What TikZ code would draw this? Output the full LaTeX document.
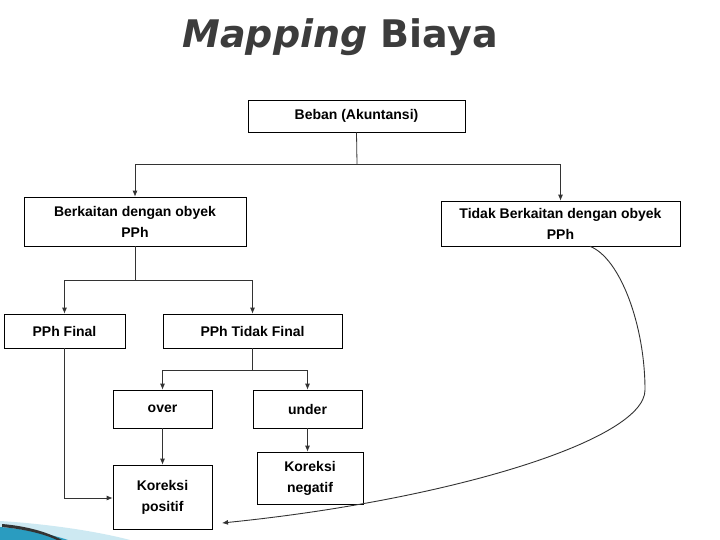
\documentclass[tikz,border=0pt]{standalone}
\usepackage{fontspec}
\setmainfont{Liberation Sans}
\newfontfamily\titlefont{DejaVu Sans}
\usetikzlibrary{arrows.meta}
\definecolor{titlegray}{HTML}{3C3C3C}
\definecolor{swteal}{HTML}{2A9CC0}
\definecolor{swlight}{HTML}{CDE9F2}
\begin{document}
\begin{tikzpicture}[x=1pt,y=-1pt,
  box/.style={draw=black,line width=0.7pt,fill=white,inner sep=0pt,font=\bfseries\fontsize{14}{21}\selectfont,align=center},
  conn/.style={draw=black!80,line width=0.8pt},
  arr/.style={conn,-{Latex[length=6pt,width=5pt]}}]
\useasboundingbox (0,0) rectangle (720,540);
\fill[white] (0,0) rectangle (720,540);
% swoosh
\fill[swlight] (0,521) .. controls (50,524) and (100,532) .. (130,540) -- (0,540) -- cycle;
\fill[swteal] (0,527) .. controls (25,529) and (50,534) .. (68,540) -- (0,540) -- cycle;
\fill[black!80] (2,524) .. controls (25,526) and (45,531) .. (62,540) -- (57,540) .. controls (42,533) and (22,529) .. (2,527) -- cycle;
% title
\node[font=\titlefont\bfseries\fontsize{38}{40}\selectfont,text=titlegray] (title) at (340,37) {\itshape Mapping\upshape{} Biaya};
% boxes
\node[box,minimum width=217pt,minimum height=32pt] (beban) at (356.5,116) {Beban (Akuntansi)};
\node[box,minimum width=222pt,minimum height=49pt] (berk) at (135,221.5) {Berkaitan dengan obyek\\PPh};
\node[box,minimum width=239pt,minimum height=45pt] (tidak) at (560.5,223.5) {Tidak Berkaitan dengan obyek\\PPh};
\node[box,minimum width=121pt,minimum height=34pt] (final) at (64.5,331) {PPh Final};
\node[box,minimum width=179pt,minimum height=34pt] (tfinal) at (252.5,331) {PPh Tidak Final};
\node[box,minimum width=99pt,minimum height=38pt] (over) at (162.5,409) {over};
\node[box,minimum width=109pt,minimum height=38pt] (under) at (307.5,409) {under};
\node[box,minimum width=99pt,minimum height=64pt] (kpos) at (162.5,497) {Koreksi\\positif};
\node[box,minimum width=106pt,minimum height=52pt] (kneg) at (310,478) {Koreksi\\negatif};
% connectors
\coordinate (j1) at (357,164);
\draw[conn] (beban.south) -- (j1);
\draw[arr] (j1) -| (berk.north);
\draw[arr] (j1) -| (tidak.north);
\coordinate (j2) at (135,280);
\draw[conn] (berk.south) -- (j2);
\draw[arr] (j2) -| (final.north);
\draw[arr] (j2) -| (tfinal.north);
\coordinate (j3) at (252.5,370);
\draw[conn] (tfinal.south) -- (j3);
\draw[arr] (j3) -| (over.north);
\draw[arr] (j3) -| (under.north);
\draw[arr] (over.south) -- (kpos.north);
\draw[arr] (under.south) -- (under.south |- kneg.north);
\draw[arr] (final.south) |- (kpos.west |- 0,498);
\coordinate (cs) at ([xshift=29.5pt]tidak.south);
\coordinate (cm) at (645,390);
\coordinate (ce) at (222,523);
\draw[arr,line width=0.9pt] (cs) .. controls (620,258) and (645,325) .. (cm) .. controls (645,440) and (450,500) .. (ce);
\end{tikzpicture}
\end{document}
